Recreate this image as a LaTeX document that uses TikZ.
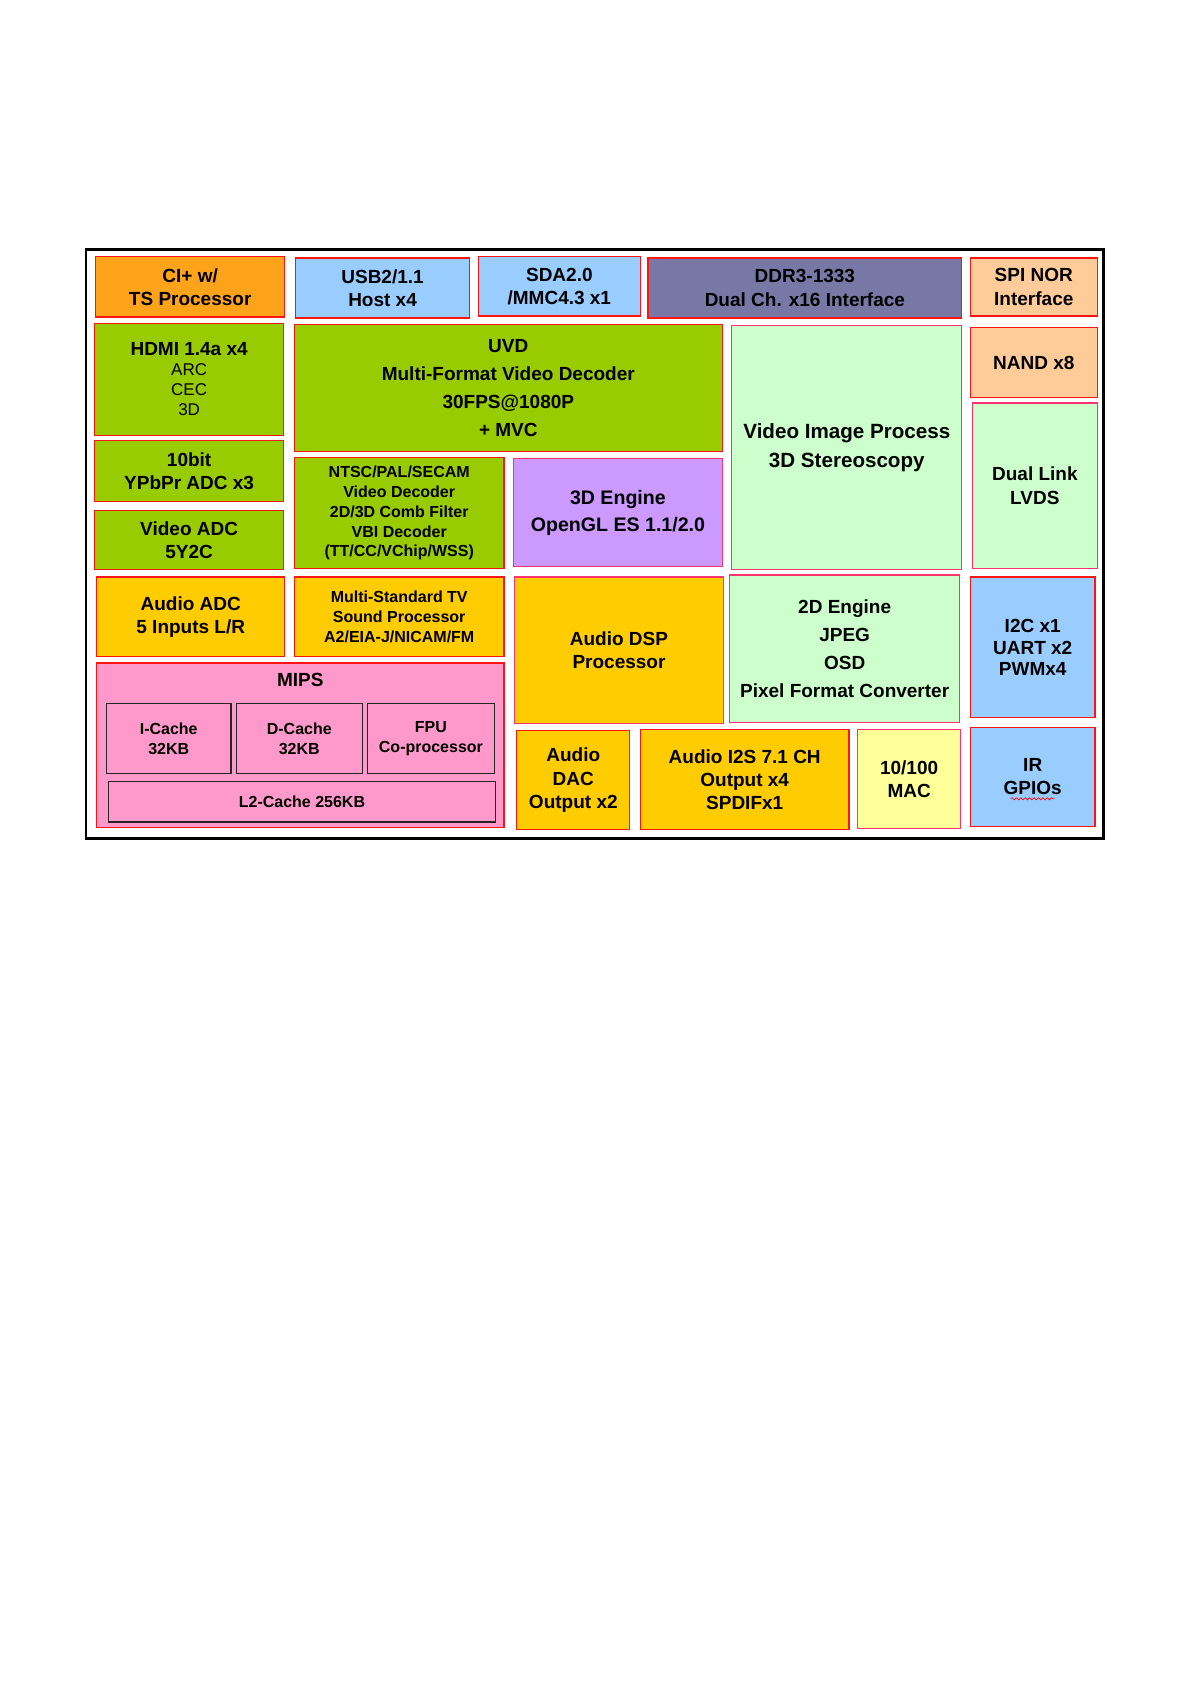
\documentclass[tikz,border=0pt]{standalone}
\usepackage{fontspec}
\setmainfont{Liberation Sans}
\usetikzlibrary{fit,decorations.pathmorphing}
\definecolor{cOrange}{RGB}{255,163,26}
\definecolor{cBlue}{RGB}{153,204,255}
\definecolor{cDDR}{RGB}{120,120,166}
\definecolor{cPeach}{RGB}{255,204,153}
\definecolor{cGreen}{RGB}{153,204,0}
\definecolor{cMint}{RGB}{204,255,204}
\definecolor{cLilac}{RGB}{204,153,255}
\definecolor{cGold}{RGB}{255,204,0}
\definecolor{cPink}{RGB}{255,153,204}
\definecolor{cCream}{RGB}{255,255,153}
\definecolor{cRed}{RGB}{255,20,20}
\definecolor{cRose}{RGB}{255,51,110}
\newcommand\smreg{\mdseries\fontsize{8.5}{10}\selectfont}
\begin{document}
\begin{tikzpicture}[x=0.5374pt,y=-0.5374pt,
  bx/.style={draw=cRed, line width=0.6pt, inner sep=0pt},
  rose/.style={draw=cRose},
  sub/.style={draw=black!85, line width=0.6pt, fill=cPink, inner sep=0pt},
  tx/.style={inner sep=0pt, align=center, font={\fontsize{9.5}{11.6}\selectfont\bfseries}},
  txw/.style={tx, font={\fontsize{9.5}{14}\selectfont\bfseries}},
  txg/.style={tx, font={\fontsize{9.8}{13.5}\selectfont\bfseries}},
  txwb/.style={tx, font={\fontsize{10.3}{14.5}\selectfont\bfseries}},
  txi/.style={tx, font={\fontsize{9.5}{10.9}\selectfont\bfseries}},
  txs/.style={tx, font={\fontsize{8}{9.9}\selectfont\bfseries}},
  frame/.style={draw=black, line width=1.4pt}]
\useasboundingbox (0,0) rectangle (1108,1568);
\draw[frame] (80,232) rectangle (1027,780);
% boxes
\node[bx, fill=cOrange, fit={(89,239) (265,295)}] (ci) {};
\node[bx, fill=cBlue, fit={(275,240) (437,296)}] (usb) {};
\node[bx, fill=cBlue, fit={(445,239) (596,294)}] (sda) {};
\node[bx, fill=cDDR, fit={(603,240) (895,296)}] (ddr) {};
\node[bx, fill=cPeach, fit={(903,240) (1021,294)}] (spi) {};
\node[bx, fill=cGreen, fit={(88,301) (264,405)}] (hdmi) {};
\node[bx, fill=cGreen, fit={(88,410) (264,467)}] (tenbit) {};
\node[bx, fill=cGreen, fit={(88,475) (264,530)}] (vadc) {};
\node[bx, fill=cGold, fit={(90,537) (265,611)}] (aadc) {};
\node[bx, fill=cGreen, fit={(274,302) (672,420)}] (uvd) {};
\node[bx, fill=cGreen, fit={(274,426) (469,529)}] (ntsc) {};
\node[bx, rose, fill=cLilac, fit={(478,427) (672,527)}] (gl) {};
\node[bx, fill=cGold, fit={(274,537) (469,611)}] (mstv) {};
\node[bx, rose, fill=cGold, fit={(479,537) (673,673)}] (dsp) {};
\node[bx, rose, fill=cMint, fit={(681,303) (895,530)}] (vip) {};
\node[bx, rose, fill=cMint, fit={(679,535) (893,672)}] (twod) {};
\node[bx, fill=cPeach, fit={(903,305) (1021,370)}] (nand) {};
\node[bx, rose, fill=cMint, fit={(905,375) (1021,529)}] (lvds) {};
\node[bx, fill=cBlue, fit={(903,537) (1019,668)}] (i2c) {};
\node[bx, fill=cPink, fit={(90,617) (469,770)}] (mips) {};
\node[sub, fit={(99,655) (215,720)}] (icache) {};
\node[sub, fit={(220,655) (337,720)}] (dcache) {};
\node[sub, fit={(342,655) (460,720)}] (fpu) {};
\node[sub, fit={(101,727) (461,765)}] (l2) {};
\node[bx, fill=cGold, fit={(481,680) (586,772)}] (dac) {};
\node[bx, fill=cGold, fit={(596,679) (790,772)}] (i2s) {};
\node[bx, rose, fill=cCream, fit={(798,679) (894,771)}] (mac) {};
\node[bx, fill=cBlue, fit={(903,677) (1019,769)}] (ir) {};
% labels
\node[tx] (ci-t) at (ci.center) {CI+ w/\\TS Processor};
\node[tx] (usb-t) at (usb.center) {USB2/1.1\\Host x4};
\node[tx] (sda-t) at (sda.center) {SDA2.0\\/MMC4.3 x1};
\node[tx] (ddr-t) at (ddr.center) {DDR3-1333\\Dual Ch. x16 Interface};
\node[tx] (spi-t) at (spi.center) {SPI NOR\\Interface};
\node[tx, font={\fontsize{9.5}{10}\selectfont\bfseries}] (hdmi-t) at (hdmi.center)
  {HDMI 1.4a x4\\\smreg ARC\\\smreg CEC\\\smreg 3D};
\node[tx] (tenbit-t) at (tenbit.center) {10bit\\YPbPr ADC x3};
\node[tx] (vadc-t) at (vadc.center) {Video ADC\\5Y2C};
\node[tx] (aadc-t) at (aadc.center) {Audio ADC\\5 Inputs L/R};
\node[txw] (uvd-t) at (uvd.center) {UVD\\Multi-Format Video Decoder\\30FPS@1080P\\+ MVC};
\node[txs] (ntsc-t) at (ntsc.center)
  {NTSC/PAL/SECAM\\Video Decoder\\2D/3D Comb Filter\\VBI Decoder\\(TT/CC/VChip/WSS)};
\node[txg] (gl-t) at (gl.center) {3D Engine\\OpenGL ES 1.1/2.0};
\node[txs] (mstv-t) at (mstv.center) {Multi-Standard TV\\Sound Processor\\A2/EIA-J/NICAM/FM};
\node[tx] (dsp-t) at (dsp.center) {Audio DSP\\Processor};
\node[txwb] (vip-t) at (vip.center) {Video Image Process\\3D Stereoscopy};
\node[txw] (twod-t) at (twod.center) {2D Engine\\JPEG\\OSD\\Pixel Format Converter};
\node[tx] (nand-t) at (nand.center) {NAND x8};
\node[tx] (lvds-t) at (lvds.center) {Dual Link\\LVDS};
\node[txi] (i2c-t) at (i2c.center) {I2C x1\\UART x2\\PWMx4};
\node[tx] (mips-t) at (279.5,633) {MIPS};
\node[txs] (icache-t) at (icache.center) {I-Cache\\32KB};
\node[txs] (dcache-t) at (dcache.center) {D-Cache\\32KB};
\node[txs] (fpu-t) at (fpu.center) {FPU\\Co-processor};
\node[txs] (l2-t) at (l2.center) {L2-Cache 256KB};
\node[tx] (dac-t) at (dac.center) {Audio\\DAC\\Output x2};
\node[tx] (i2s-t) at (i2s.center) {Audio I2S 7.1 CH\\Output x4\\SPDIFx1};
\node[tx] (mac-t) at (mac.center) {10/100\\MAC};
\node[tx] (ir-t) at (ir.center) {IR\\GPIOs};
\draw[red, line width=0.35pt, decorate, decoration={snake, amplitude=0.5pt, segment length=2.2pt}]
  ([xshift=-11pt, yshift=-1.6pt]ir-t.south) -- ([xshift=11pt, yshift=-1.6pt]ir-t.south);
\end{tikzpicture}
\end{document}
